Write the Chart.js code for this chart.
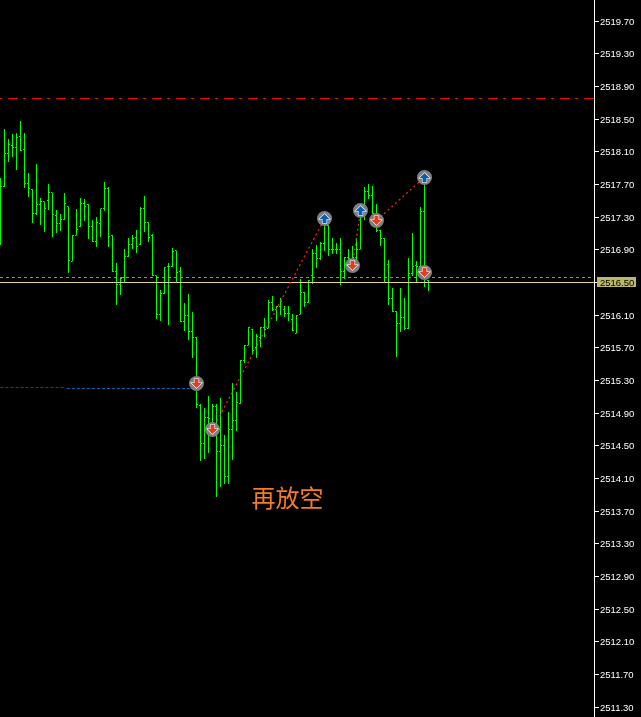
<!DOCTYPE html>
<html>
<head>
<meta charset="utf-8">
<style>
  html, body { margin: 0; padding: 0; background: #000; overflow: hidden; }
  canvas { display: block; }
</style>
<script src="https://cdn.jsdelivr.net/npm/chart.js@4"></script>
</head>
<body>
<canvas id="chart" width="641" height="717"></canvas>
<script>
const highs = [
  2517.78,2518.38,2518.26,2518.32,2518.33,2518.48,2518.33,2517.84,2517.64,2517.95,
  2517.54,2517.49,2517.71,2517.60,2517.39,2517.34,2517.59,2517.43,2517.08,2517.40,
  2517.53,2517.52,2517.46,2517.27,2517.30,2517.40,2517.73,2517.67,2517.08,2516.74,
  2516.55,2516.91,2517.04,2517.08,2517.14,2517.43,2517.56,2517.24,2517.09,2516.58,
  2516.41,2516.69,2516.74,2516.92,2516.89,2516.69,2516.25,2516.36,2516.14,2515.83,
  2515.01,2514.96,2515.11,2515.01,2515.01,2515.08,2514.63,2514.92,2515.27,2515.16,
  2515.55,2515.73,2515.96,2515.93,2515.87,2515.96,2516.06,2516.29,2516.33,2516.21,
  2516.31,2516.21,2516.21,2516.12,2516.10,2516.54,2516.38,2516.53,2516.91,2516.96,
  2516.99,2517.29,2517.20,2517.05,2516.98,2517.05,2516.81,2516.91,2516.95,2517.04,
  2517.39,2517.67,2517.71,2517.68,2517.46,2517.14,2517.04,2516.77,2516.43,2516.15,
  2516.43,2516.31,2516.80,2517.10,2516.76,2517.42,2517.69,2516.53
];
const lows = [
  2516.96,2517.67,2517.98,2518.04,2517.88,2518.11,2517.66,2517.55,2517.23,2517.33,
  2517.20,2517.12,2517.39,2517.06,2517.11,2517.13,2517.27,2516.62,2516.76,2517.08,
  2517.18,2517.25,2517.03,2516.99,2516.94,2517.06,2517.38,2516.93,2516.63,2516.22,
  2516.35,2516.51,2516.81,2516.91,2516.86,2516.96,2517.12,2516.99,2516.58,2516.05,
  2516.03,2516.36,2515.98,2516.69,2516.49,2516.02,2515.91,2515.79,2515.57,2514.96,
  2514.32,2514.34,2514.41,2514.62,2513.87,2513.99,2514.03,2514.03,2514.33,2514.68,
  2515.01,2515.52,2515.73,2515.61,2515.58,2515.71,2515.83,2515.94,2516.15,2516.03,
  2516.10,2516.08,2516.03,2515.91,2515.88,2516.11,2516.20,2516.25,2516.48,2516.68,
  2516.77,2516.89,2516.83,2516.85,2516.85,2516.47,2516.54,2516.74,2516.69,2516.78,
  2516.91,2517.27,2517.52,2517.34,2517.12,2516.95,2516.50,2516.22,2516.14,2515.59,
  2515.89,2515.92,2515.93,2516.58,2516.50,2516.63,2516.45,2516.40
];
const opens = [
  2517.30,2517.68,2518.08,2518.18,2518.15,2518.29,2518.13,2517.71,2517.64,2517.34,
  2517.46,2517.49,2517.51,2517.60,2517.32,2517.22,2517.27,2517.43,2516.76,2517.08,
  2517.18,2517.47,2517.45,2517.19,2517.00,2517.22,2517.40,2517.65,2517.07,2516.64,
  2516.48,2516.56,2516.82,2516.96,2517.05,2516.97,2517.41,2517.24,2517.07,2516.58,
  2516.11,2516.37,2516.69,2516.70,2516.89,2516.63,2516.02,2516.09,2515.90,2515.83,
  2515.00,2514.53,2514.85,2514.70,2514.98,2514.43,2514.51,2514.13,2514.70,2514.81,
  2515.02,2515.54,2515.73,2515.93,2515.70,2515.83,2515.95,2515.94,2516.25,2516.17,
  2516.20,2516.17,2516.12,2516.05,2515.88,2516.11,2516.38,2516.26,2516.58,2516.86,
  2516.79,2516.98,2517.20,2516.91,2516.91,2516.91,2516.63,2516.80,2516.74,2516.80,
  2516.91,2517.31,2517.62,2517.56,2517.29,2517.14,2517.04,2516.72,2516.31,2516.15,
  2516.00,2516.07,2515.94,2516.61,2516.71,2516.69,2517.37,2516.53
];
const closes = [
  2517.68,2518.08,2518.19,2518.15,2518.28,2518.12,2517.71,2517.65,2517.34,2517.46,
  2517.49,2517.41,2517.60,2517.33,2517.22,2517.27,2517.47,2516.77,2517.08,2517.15,
  2517.47,2517.43,2517.19,2517.00,2517.24,2517.40,2517.65,2517.06,2516.64,2516.48,
  2516.55,2516.82,2516.96,2517.04,2516.94,2517.41,2517.24,2517.05,2516.58,2516.11,
  2516.37,2516.68,2516.70,2516.88,2516.62,2516.02,2516.09,2515.90,2515.83,2515.01,
  2514.53,2514.85,2514.84,2514.98,2514.43,2514.51,2514.13,2514.70,2514.81,2515.03,
  2515.54,2515.73,2515.95,2515.67,2515.84,2515.95,2515.93,2516.25,2516.17,2516.20,
  2516.27,2516.12,2516.12,2515.91,2516.10,2516.38,2516.26,2516.53,2516.86,2516.79,
  2516.98,2517.23,2516.91,2516.91,2516.91,2516.63,2516.80,2516.79,2516.80,2516.91,
  2517.33,2517.62,2517.56,2517.34,2517.14,2517.04,2516.50,2516.31,2516.15,2516.00,
  2516.07,2515.94,2516.61,2516.69,2516.69,2517.37,2516.61,2516.50
];
const tickLabels = [
  2519.70,2519.30,2518.90,2518.50,2518.10,2517.70,2517.30,2516.90,2516.50,2516.10,2515.70,
  2515.30,2514.90,2514.50,2514.10,2513.70,2513.30,2512.90,2512.50,2512.10,2511.70,2511.30
];
const buyBars = [81, 90, 106];
const buyPrices = [2517.28, 2517.38, 2517.79];
const sellBars = [49, 53, 88, 94, 106];
const sellPrices = [2515.26, 2514.70, 2516.71, 2517.26, 2516.62];
const tradeLines = [
  [[53, 2514.70], [81, 2517.28]],
  [[88, 2516.71], [90, 2517.38]],
  [[94, 2517.26], [106, 2517.79]]
];
const redLevel = 2518.753;
const greenLevel = 2516.561;
const currentPrice = 2516.50;
const blueLevelOld = 2515.214;
const blueLevel = 2515.202;
const note = '再放空';

const xMin = -0.125, xMax = 148.375;
const yMin = 2511.1798, yMax = 2519.959;

function makeMarker(up) {
  const c = document.createElement('canvas');
  c.width = 15; c.height = 15;
  const g = c.getContext('2d');
  g.fillStyle = '#808080';
  g.beginPath();
  g.arc(7.5, 7.5, 7.5, 0, Math.PI * 2);
  g.fill();
  const pts = [[0,-4.5],[5,0.5],[2,0.5],[2,4.5],[-2,4.5],[-2,0.5],[-5,0.5]];
  g.beginPath();
  pts.forEach(function(p, i) {
    const y = up ? 7.5 + p[1] : 7.5 - p[1];
    if (i == 0) g.moveTo(7.5 + p[0], y); else g.lineTo(7.5 + p[0], y);
  });
  g.closePath();
  g.strokeStyle = '#fff';
  g.lineWidth = 1.2;
  g.stroke();
  g.fillStyle = up ? '#0a5cb0' : '#e63a1e';
  g.fill();
  return c;
}

function hline(y, x0, x1, color, dash, order, dashOffset) {
  return {
    type: 'line',
    data: [{x: x0, y: y}, {x: x1, y: y}],
    borderColor: color,
    borderWidth: 1,
    borderDash: dash,
    borderDashOffset: dashOffset || 0,
    pointRadius: 0,
    snap: true,
    order: order
  };
}

const datasets = [];
datasets.push(hline(redLevel, xMin, xMax, '#ff0000', [10, 5, 3, 6], 6, 16));
datasets.push(hline(greenLevel, xMin, xMax, '#32cd32', [3, 3], 6));
datasets.push(hline(blueLevelOld, 0, 16, '#0a4a90', [3, 2], 6));
datasets.push(hline(blueLevel, 16.6, 49, '#0a62bc', [3, 2], 6));
datasets.push(hline(currentPrice, xMin, xMax, '#e0d68c', [], 3));

datasets.push({
  type: 'bar',
  data: highs.map(function(h, i) { return {x: i, y: [lows[i], h]}; }),
  backgroundColor: '#00ff00',
  barThickness: 1,
  inflateAmount: 0,
  order: 5
});
datasets.push({
  type: 'line',
  data: opens.map(function(v, i) { return {x: i, y: v}; }),
  showLine: false,
  pointStyle: 'dash',
  pointRadius: 1.5,
  pointRotation: 180,
  pointBorderColor: '#00ff00',
  pointBorderWidth: 1,
  snap: true,
  order: 4
});
datasets.push({
  type: 'line',
  data: closes.map(function(v, i) { return {x: i, y: v}; }),
  showLine: false,
  pointStyle: 'dash',
  pointRadius: 1.5,
  pointRotation: 0,
  pointBorderColor: '#00ff00',
  pointBorderWidth: 1,
  snap: true,
  order: 4
});

tradeLines.forEach(function(t) {
  datasets.push({
    type: 'line',
    data: t.map(function(p) { return {x: p[0], y: p[1]}; }),
    borderColor: '#ff2a10',
    borderWidth: 1.2,
    borderDash: [2, 3],
    pointRadius: 0,
    order: 2
  });
});

datasets.push({
  type: 'line',
  data: buyBars.map(function(b, i) { return {x: b, y: buyPrices[i]}; }),
  showLine: false,
  pointStyle: makeMarker(true),
  snap: true,
  order: 1
});
datasets.push({
  type: 'line',
  data: sellBars.map(function(b, i) { return {x: b, y: sellPrices[i]}; }),
  showLine: false,
  pointStyle: makeMarker(false),
  snap: true,
  order: 1
});

// snap to whole pixel rows so the 1px marks stay sharp
const snapRows = {
  id: 'snapRows',
  beforeDatasetsDraw: function(chart) {
    chart.getSortedVisibleDatasetMetas().forEach(function(meta) {
      const ds = meta.controller.getDataset();
      meta.data.forEach(function(el) {
        if (meta.type == 'bar') {
          el.y = Math.round(el.y);
          el.base = Math.round(el.base);
        } else if (ds.snap) {
          el.y = Math.floor(el.y) + 0.5;
        }
      });
    });
  }
};

const overlay = {
  id: 'overlay',
  afterDraw: function(chart) {
    const ctx = chart.ctx;
    const y = Math.floor(chart.scales.y.getPixelForValue(currentPrice)) + 0.5;
    ctx.save();
    ctx.fillStyle = '#bdb76b';
    ctx.fillRect(597, y - 5.5, 39, 10);
    ctx.fillStyle = '#000';
    ctx.font = '9.5px "Liberation Sans"';
    ctx.textAlign = 'left';
    ctx.textBaseline = 'middle';
    ctx.fillText(currentPrice.toFixed(2), 600, y + 0.5);
    ctx.fillStyle = '#f57c24';
    ctx.font = '24px "Noto Sans CJK SC"';
    ctx.textAlign = 'center';
    ctx.fillText(note, 287.5, 498);
    ctx.restore();
  }
};

new Chart(document.getElementById('chart').getContext('2d'), {
  type: 'bar',
  data: {datasets: datasets},
  plugins: [snapRows, overlay],
  options: {
    responsive: false,
    animation: false,
    layout: {padding: 0, autoPadding: false},
    plugins: {legend: {display: false}, tooltip: {enabled: false}},
    scales: {
      x: {
        type: 'linear',
        display: false,
        min: xMin,
        max: xMax,
        offset: false
      },
      y: {
        position: 'right',
        min: yMin,
        max: yMax,
        afterFit: function(scale) {
          scale.width = 47;
          scale.paddingTop = 0;
          scale.paddingBottom = 0;
        },
        afterBuildTicks: function(scale) {
          scale.ticks = tickLabels.map(function(v) { return {value: v}; });
        },
        border: {color: '#fff', width: 1},
        grid: {drawOnChartArea: false, drawTicks: true, tickLength: 5, color: '#fff'},
        ticks: {
          color: '#fff',
          padding: 1,
          labelOffset: 1,
          autoSkip: false,
          maxRotation: 0,
          font: {family: '"Liberation Sans"', size: 9.5},
          callback: function(v) { return v.toFixed(2); }
        }
      }
    }
  }
});
</script>
</body>
</html>
